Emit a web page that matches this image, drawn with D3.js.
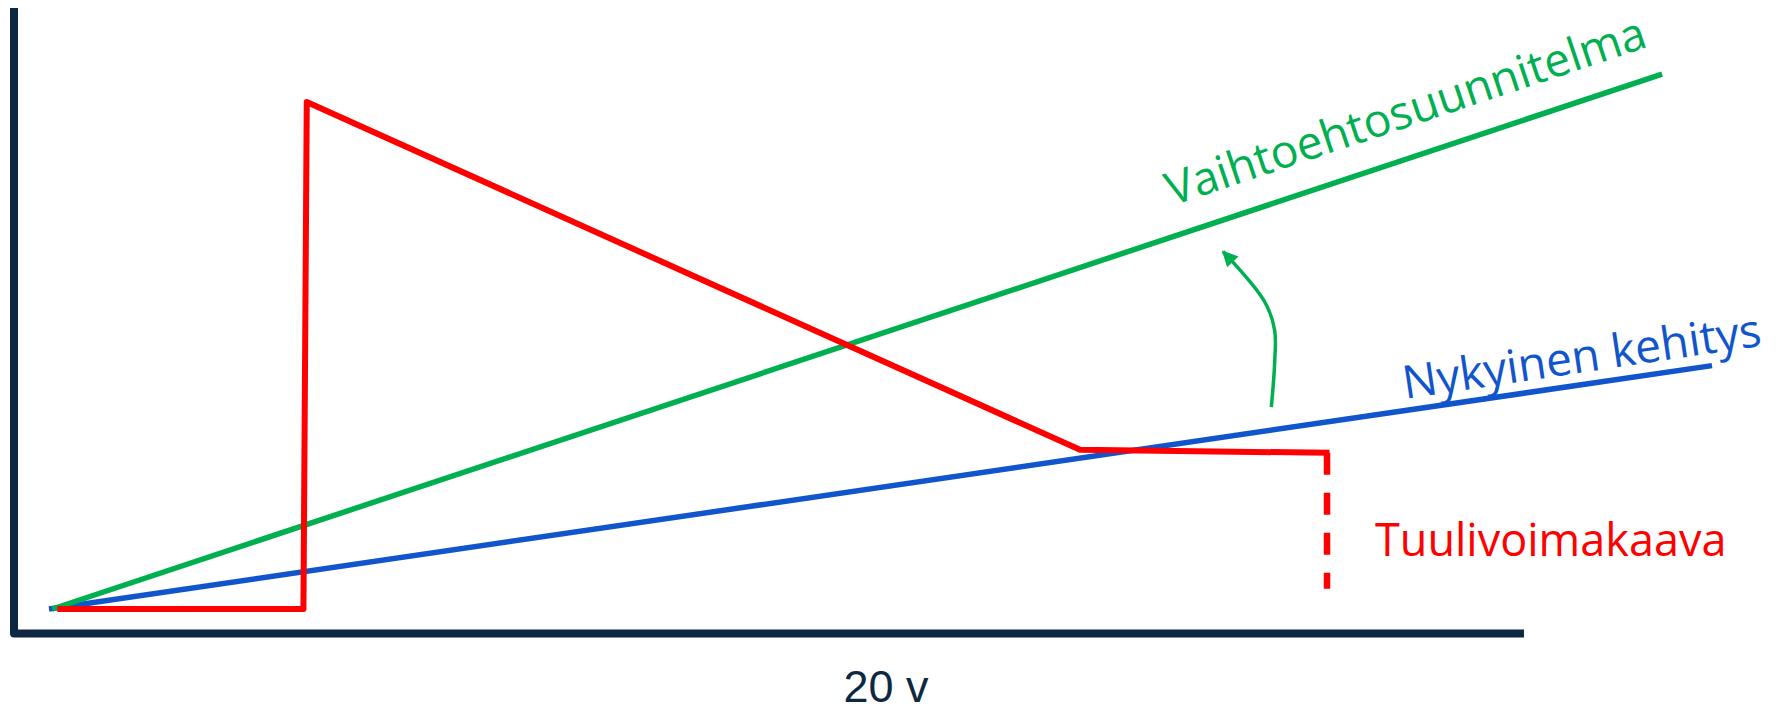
<!DOCTYPE html>
<meta charset="utf-8">
<head>
<script src="https://cdn.jsdelivr.net/npm/d3@7"></script>
<style>
  body { margin: 0; background: #fff; }
  text { font-family: "Open Sans", sans-serif; }
</style>
</head>
<body>
<div id="chart"></div>
<script>
  // line values (x = time units, y = level)
  const nykyinen = [
    {x: 0, y: 0}, {x: 100, y: 48}
  ];
  const vaihtoehto = [
    {x: 0.2, y: 0}, {x: 97, y: 105.5}
  ];
  const tuulivoima = [
    {x: 0.5, y: 0}, {x: 15.3, y: 0}, {x: 15.5, y: 100},
    {x: 62.0, y: 31.4}, {x: 77, y: 30.8}
  ];
  const tuulivoimaJatko = [
    {x: 76.85, y: 30.8}, {x: 76.85, y: 4}
  ];
  const nuoli = [
    {x: 73.5, y: 39.8}, {x: 73.7, y: 48.5}, {x: 73.7, y: 55},
    {x: 73.1, y: 60.6}, {x: 70.6, y: 70.5}
  ];
  const labels = ["Nykyinen kehitys", "Vaihtoehtosuunnitelma", "Tuulivoimakaava", "20 v"];

  const W = 1782, H = 711;
  const svg = d3.select("#chart").append("svg")
      .attr("width", W)
      .attr("height", H);

  const x = d3.scaleLinear().domain([0, 100]).range([49, 1712]);
  const y = d3.scaleLinear().domain([0, 100]).range([609, 102]);

  const line = d3.line().x(d => x(d.x)).y(d => y(d.y));

  // axes frame (no ticks)
  svg.append("path")
    .attr("d", "M14,8 L14,633.5 L1524,633.5")
    .attr("fill", "none")
    .attr("stroke", "#0e2841")
    .attr("stroke-width", 8)
    .attr("stroke-linejoin", "round");

  svg.append("defs").append("marker")
    .attr("id", "head")
    .attr("viewBox", "0 0 10 10")
    .attr("refX", 9).attr("refY", 5)
    .attr("markerWidth", 5).attr("markerHeight", 4.5)
    .attr("markerUnits", "strokeWidth")
    .attr("orient", "auto")
    .append("path")
      .attr("d", "M0,0 L10,5 L0,10 Z")
      .attr("fill", "#00b050");

  svg.append("path").datum(nykyinen)
    .attr("d", line)
    .attr("fill", "none").attr("stroke", "#1155cc").attr("stroke-width", 5.5);

  svg.append("path").datum(vaihtoehto)
    .attr("d", line)
    .attr("fill", "none").attr("stroke", "#00b050").attr("stroke-width", 5.5);

  svg.append("path").datum(tuulivoima)
    .attr("d", line)
    .attr("fill", "none").attr("stroke", "#ff0000").attr("stroke-width", 6)
    .attr("stroke-linejoin", "round");

  svg.append("path").datum(tuulivoimaJatko)
    .attr("d", line)
    .attr("fill", "none").attr("stroke", "#ff0000").attr("stroke-width", 6.5)
    .attr("stroke-dasharray", "22,18");

  svg.append("path").datum(nuoli)
    .attr("d", line.curve(d3.curveCatmullRom))
    .attr("fill", "none").attr("stroke", "#00b050").attr("stroke-width", 3.5)
    .attr("marker-end", "url(#head)");

  // labels
  svg.append("text")
    .attr("transform", "translate(1405,399) rotate(-8.5)")
    .attr("font-size", 46).attr("fill", "#1155cc")
    .text(labels[0]);

  svg.append("text")
    .attr("transform", "translate(1172,206) rotate(-18.5)")
    .attr("font-size", 46).attr("fill", "#00b050")
    .text(labels[1]);

  svg.append("text")
    .attr("x", 1375).attr("y", 556)
    .attr("font-size", 45).attr("fill", "#ff0000")
    .text(labels[2]);

  svg.append("text")
    .attr("x", 886).attr("y", 702)
    .attr("text-anchor", "middle")
    .style("font-family", "'Liberation Sans', Arial, sans-serif")
    .attr("font-size", 45).attr("fill", "#0e2841")
    .text(labels[3]);
</script>
</body>
